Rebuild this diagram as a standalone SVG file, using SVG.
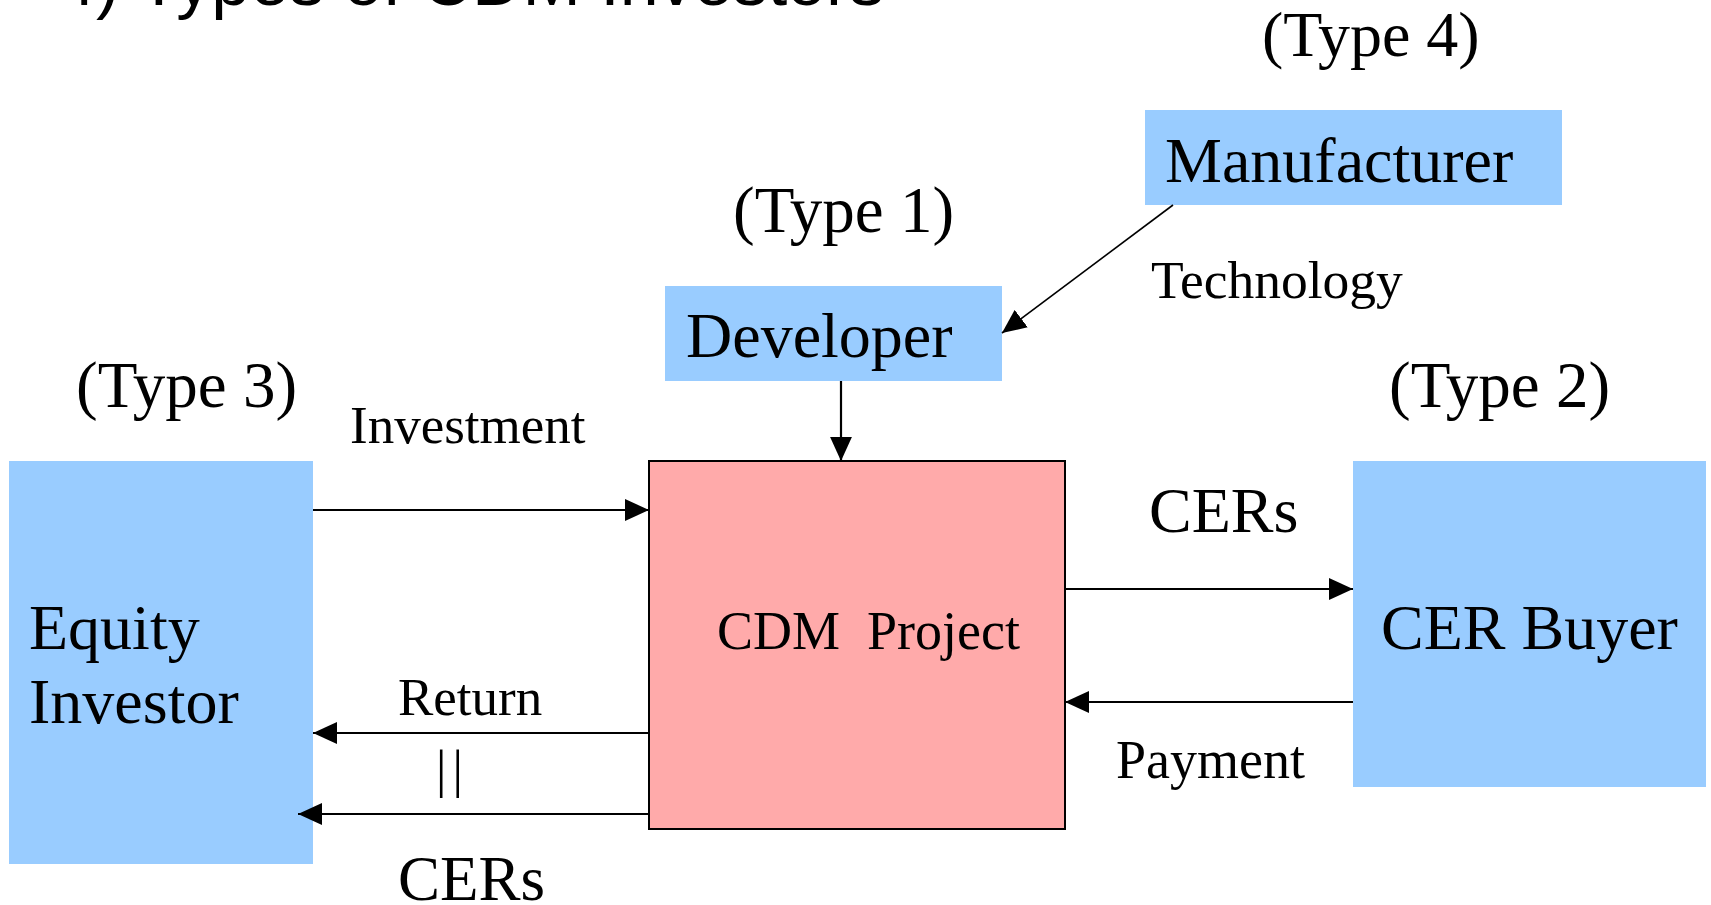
<svg xmlns="http://www.w3.org/2000/svg" width="1711" height="905" viewBox="0 0 1711 905">
<style>
.t{font-family:"Liberation Serif","Times New Roman",serif;fill:#000;white-space:pre}
.blue{fill:#99CCFF}
.pink{fill:#FFAAAA;stroke:#000;stroke-width:2}
.ln{stroke:#000;stroke-width:2.2;fill:none;marker-end:url(#ah)}
</style>
<defs>
<marker id="ah" markerUnits="userSpaceOnUse" markerWidth="24" markerHeight="22" refX="22" refY="10" orient="auto" viewBox="0 0 22 20">
<path d="M0,0 L22,10 L0,20 Z" fill="#000"/>
</marker>
</defs>
<rect width="1711" height="905" fill="#fff"/>
<text x="57" y="5" font-family="Liberation Sans, Arial, sans-serif" font-size="70" fill="#000">4) Types of CDM Investors</text>

<g id="manufacturer">
<rect class="blue" x="1145" y="110" width="417" height="95"/>
<text class="t" x="1165" y="182" font-size="64">Manufacturer</text>
</g>
<text class="t" x="1262" y="56" font-size="64">(Type 4)</text>

<g id="developer">
<rect class="blue" x="665" y="286" width="337" height="95"/>
<text class="t" x="686" y="357" font-size="64">Developer</text>
</g>
<text class="t" x="733" y="232" font-size="65">(Type 1)</text>

<g id="equity">
<rect class="blue" x="9" y="461" width="304" height="403"/>
<text class="t" x="29" y="649" font-size="64">Equity</text>
<text class="t" x="29" y="723" font-size="64">Investor</text>
</g>
<text class="t" x="76" y="407" font-size="65">(Type 3)</text>

<g id="cdm">
<rect class="pink" x="649" y="461" width="416" height="368"/>
<text class="t" x="717" y="649" font-size="54">CDM  Project</text>
</g>

<g id="buyer">
<rect class="blue" x="1353" y="461" width="353" height="326"/>
<text class="t" x="1381" y="649" font-size="64">CER Buyer</text>
</g>
<text class="t" x="1389" y="407" font-size="65">(Type 2)</text>

<g id="connectors">
<line class="ln" x1="1173" y1="205" x2="1002" y2="333" style="stroke-width:1.6"/>
<line class="ln" x1="841" y1="381" x2="841" y2="461"/>
<line class="ln" x1="313" y1="510" x2="649" y2="510"/>
<line class="ln" x1="1065" y1="589" x2="1353" y2="589"/>
<line class="ln" x1="1353" y1="702" x2="1065" y2="702"/>
<line class="ln" x1="649" y1="733" x2="313" y2="733"/>
<line class="ln" x1="649" y1="814" x2="298" y2="814"/>
</g>

<g id="labels">
<text class="t" x="1151" y="298" font-size="53.5">Technology</text>
<text class="t" x="350" y="443" font-size="53">Investment</text>
<text class="t" x="1149" y="532" font-size="64">CERs</text>
<text class="t" x="1116" y="778" font-size="54">Payment</text>
<text class="t" x="398" y="715" font-size="53">Return</text>
<text class="t" x="436" y="787" font-size="52" letter-spacing="6">||</text>
<text class="t" x="398" y="900" font-size="63">CERs</text>
</g>
</svg>
